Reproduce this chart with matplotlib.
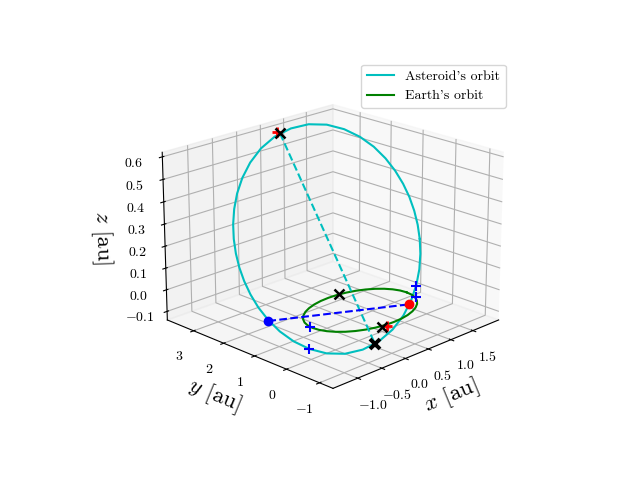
import matplotlib
matplotlib.use("Agg")
import matplotlib.pyplot as plt

plt.rcParams['font.family'] = ['cmr10', 'DejaVu Serif']
plt.rcParams['mathtext.fontset'] = 'cm'
plt.rcParams['axes.formatter.use_mathtext'] = True
plt.rcParams['axes.unicode_minus'] = True

x_ticks = [-1.0, -0.5, 0.0, 0.5, 1.0, 1.5]
y_ticks = [-1, 0, 1, 2, 3]
z_ticks = [-0.1, 0.0, 0.1, 0.2, 0.3, 0.4, 0.5, 0.6]

# asteroid orbit
ast_x = [1.437, 1.305, 1.148, 0.964, 0.751, 0.511, 0.246, -0.034, -0.312, -0.572,
         -0.798, -0.978, -1.111, -1.199, -1.249, -1.266, -1.255, -1.221, -1.166, -1.089,
         -0.992, -0.871, -0.724, -0.548, -0.340, -0.099, 0.172, 0.463, 0.759, 1.038,
         1.281, 1.475, 1.616, 1.707, 1.754, 1.765, 1.746, 1.702, 1.635, 1.547, 1.437]
ast_y = [0.162, -0.041, -0.228, -0.394, -0.531, -0.629, -0.675, -0.656, -0.564, -0.400,
         -0.176, 0.090, 0.377, 0.669, 0.957, 1.234, 1.498, 1.750, 1.989, 2.219,
         2.438, 2.648, 2.845, 3.025, 3.181, 3.301, 3.369, 3.369, 3.289, 3.128,
         2.897, 2.616, 2.310, 1.996, 1.689, 1.396, 1.118, 0.857, 0.611, 0.380, 0.162]
ast_z = [0.204, 0.156, 0.107, 0.059, 0.012, -0.033, -0.072, -0.103, -0.122, -0.128,
         -0.120, -0.100, -0.071, -0.036, 0.004, 0.045, 0.088, 0.132, 0.176, 0.221,
         0.268, 0.315, 0.364, 0.414, 0.463, 0.511, 0.555, 0.590, 0.613, 0.622,
         0.615, 0.594, 0.563, 0.525, 0.482, 0.437, 0.391, 0.345, 0.298, 0.251, 0.204]

# earth orbit
earth_x = [1.02, 1.005, 0.96, 0.886, 0.786, 0.663, 0.52, 0.362, 0.194, 0.02, -0.154, -0.322,
           -0.48, -0.623, -0.746, -0.846, -0.92, -0.965, -0.98, -0.965, -0.92, -0.846, -0.746, -0.623,
           -0.48, -0.322, -0.154, 0.02, 0.194, 0.362, 0.52, 0.663, 0.786, 0.886, 0.96, 1.005, 1.02]
earth_y = [-0.02, 0.154, 0.322, 0.48, 0.623, 0.746, 0.846, 0.92, 0.965, 0.98, 0.965, 0.92,
           0.846, 0.746, 0.623, 0.48, 0.322, 0.154, -0.02, -0.194, -0.362, -0.52, -0.663, -0.786,
           -0.886, -0.96, -1.005, -1.02, -1.005, -0.96, -0.886, -0.786, -0.663, -0.52, -0.362, -0.194, -0.02]
earth_z = [0.0] * 37

# apsides and nodes
apsis_x = [0.567, -0.106]
apsis_y = [3.352, -0.642]
apsis_z = [0.600, -0.110]
node_x = [-1.255, 0.691]
node_y = [0.939, -0.558]
node_z = [0.0, 0.0]

# red crosses
red_x = [0.539, -0.161]
red_y = [3.407, -1.071]
red_z = [0.605, 0.0]

# blue crosses
blue_x = [0.947, 0.980, -0.983, -0.989]
blue_y = [-0.406, -0.367, 0.060, 0.093]
blue_z = [0.055, 0.0, 0.0, -0.101]

# black x marks
black_x = [0.567, 0.242, -0.240]
black_y = [3.352, 0.975, -1.033]
black_z = [0.600, 0.0, 0.0]
big_x = [-0.106]
big_y = [-0.642]
big_z = [-0.110]

fig = plt.figure(figsize=(6.4, 4.8), dpi=100)
ax = fig.add_subplot(projection='3d')
ax.computed_zorder = False
ax.view_init(elev=20, azim=-135)

ax.plot(ast_x, ast_y, ast_z, 'c', label="Asteroid's orbit")
ax.plot(earth_x, earth_y, earth_z, 'g', label="Earth's orbit")
ax.plot(apsis_x, apsis_y, apsis_z, 'c--')
ax.plot(node_x, node_y, node_z, 'b--')
ax.plot(red_x, red_y, red_z, 'r+', ms=7, mew=2)
ax.plot(blue_x, blue_y, blue_z, 'b+', ms=7, mew=1.5)
ax.plot(black_x, black_y, black_z, 'kx', ms=6.5, mew=1.8)
ax.plot(big_x, big_y, big_z, 'kx', ms=7.5, mew=2.8)
ax.plot(node_x[:1], node_y[:1], node_z[:1], 'bo', ms=6)
ax.plot(node_x[1:], node_y[1:], node_z[1:], 'ro', ms=6)

ax.set_xlim(-1.5, 2.1)
ax.set_ylim(-1.4, 3.9)
ax.set_zlim(-0.14, 0.62)
ax.set_xticks(x_ticks)
ax.set_yticks(y_ticks)
ax.set_zticks(z_ticks)
ax.tick_params(labelsize=10)
ax.set_xlabel(r'$x$ [au]', fontsize=16.5)
ax.set_ylabel(r'$y$ [au]', fontsize=16.5)
ax.set_zlabel(r'$z$ [au]', fontsize=16.5, labelpad=5)
ax.legend(fontsize=10)
fig.savefig('out.png', dpi=100)
